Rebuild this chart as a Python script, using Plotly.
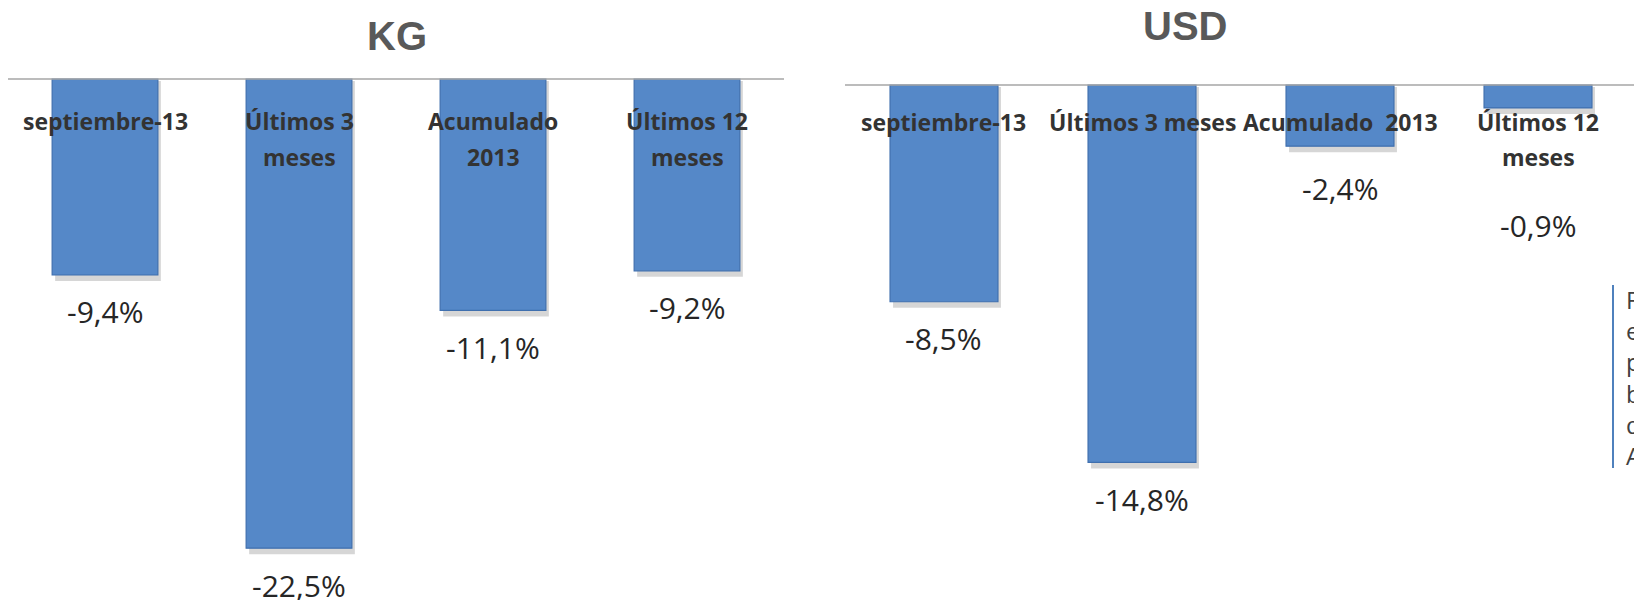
import plotly.graph_objects as go

# ---- data ----
kg_categories = ["septiembre-13", "Últimos 3 meses", "Acumulado 2013", "Últimos 12 meses"]
kg_label_lines = [["septiembre-13"], ["Últimos 3", "meses"], ["Acumulado", "2013"], ["Últimos 12", "meses"]]
kg_values = [-9.4, -22.5, -11.1, -9.2]

usd_categories = ["septiembre-13", "Últimos 3 meses", "Acumulado 2013", "Últimos 12 meses"]
usd_label_lines = [["septiembre-13"], ["Últimos 3 meses"], ["Acumulado  2013"], ["Últimos 12", "meses"]]
usd_values = [-8.5, -14.8, -2.4, -0.9]

titles = ["KG", "USD"]
side_text_lines = ["F", "e", "p", "b", "d", "A"]

# ---- styling / layout parameters ----
W, H = 1634, 600
BAR_COLOR = "#5588C8"
BAR_LINE = "#3F6FAE"
SHADOW = "rgba(0,0,0,0.16)"
AXIS_COLOR = "#A6A6A6"
BAR_W = 0.545
VALUE_FONT = dict(family="Open Sans, sans-serif", size=30, color="#262626")
CAT_FONT = dict(family="Open Sans, sans-serif", size=23, color="#333333")
TITLE_FONT = dict(family="Liberation Sans, Arial, sans-serif", size=40, color="#595959")

panels = [
    dict(cats=kg_categories, lines=kg_label_lines, vals=kg_values, title=titles[0],
         x0=8, x1=784, px_cat=194.0, zero_px=79, ppu=20.85, title_xy=(397, 36),
         line_shifts=[-42, -78], label_gap=-37, extra={}),
    dict(cats=usd_categories, lines=usd_label_lines, vals=usd_values, title=titles[1],
         x0=845, x1=W, px_cat=198.0, zero_px=85, ppu=25.5, title_xy=(1185, 26),
         line_shifts=[-37, -72], label_gap=-37, extra={2: -5, 3: -81}),
]

fig = go.Figure()
annotations = []
shapes = []

for i, p in enumerate(panels):
    xa = "x" if i == 0 else f"x{i+1}"
    ya = "y" if i == 0 else f"y{i+1}"
    xs = list(range(len(p["cats"])))
    # soft drop shadow (3 px right / down)
    sh_dx = 3 / p["px_cat"]
    sh_dy = 4 / p["ppu"]
    fig.add_trace(go.Bar(
        x=xs, y=[v - sh_dy for v in p["vals"]], base=[-sh_dy / 2] * len(xs),
        width=BAR_W, offset=-BAR_W / 2 + sh_dx,
        xaxis=xa, yaxis=ya, marker=dict(color=SHADOW, line=dict(width=0)),
        hoverinfo="skip", showlegend=False,
    ))
    fig.add_trace(go.Bar(
        x=xs, y=p["vals"], width=BAR_W, offset=-BAR_W / 2,
        xaxis=xa, yaxis=ya,
        marker=dict(color=BAR_COLOR, line=dict(color=BAR_LINE, width=1.2)),
        hovertext=p["cats"], hoverinfo="text+y", showlegend=False,
    ))
    axkey = "xaxis" if i == 0 else f"xaxis{i+1}"
    aykey = "yaxis" if i == 0 else f"yaxis{i+1}"
    x1 = min(p["x1"], W)
    fig.layout[axkey] = dict(domain=[p["x0"] / W, x1 / W],
                             range=[-0.5, -0.5 + (x1 - p["x0"]) / p["px_cat"]],
                             visible=False, fixedrange=True)
    top = p["zero_px"] / p["ppu"]
    bottom = -(H - p["zero_px"]) / p["ppu"]
    fig.layout[aykey] = dict(domain=[0, 1], range=[bottom, top], visible=False, fixedrange=True)

    # zero line
    shapes.append(dict(type="line", xref=f"{xa} domain", yref=ya, x0=0, x1=1, y0=0, y1=0,
                       line=dict(color=AXIS_COLOR, width=1.6), layer="above"))
    # category labels
    for j, lines in enumerate(p["lines"]):
        for k, line in enumerate(lines):
            annotations.append(dict(x=j, y=0, xref=xa, yref=ya, text=f"<b>{line}</b>",
                                    showarrow=False, yanchor="middle", xanchor="center",
                                    yshift=p["line_shifts"][k], font=CAT_FONT))
    # value labels
    for j, v in enumerate(p["vals"]):
        txt = f"{v:.1f}".replace(".", ",") + "%"
        annotations.append(dict(x=j, y=v, xref=xa, yref=ya, text=txt, showarrow=False,
                                yanchor="middle", xanchor="center",
                                yshift=p["label_gap"] + p["extra"].get(j, 0), font=VALUE_FONT))
    # title
    tx, ty = p["title_xy"]
    annotations.append(dict(x=tx / W, y=1 - ty / H, xref="paper", yref="paper",
                            text=f"<b>{p['title']}</b>", showarrow=False,
                            xanchor="center", yanchor="middle", font=TITLE_FONT))

# right-side text box fragment
shapes.append(dict(type="line", xref="paper", yref="paper", x0=1613 / W, x1=1613 / W,
                   y0=1 - 285 / H, y1=1 - 468 / H, line=dict(color="#4F81BD", width=2)))
annotations.append(dict(x=1624 / W, y=1 - 281 / H, xref="paper", yref="paper",
                        text="<br>".join(side_text_lines), showarrow=False, align="left",
                        xanchor="left", yanchor="top",
                        font=dict(family="Open Sans, sans-serif", size=24, color="#404040")))

fig.update_layout(
    width=W, height=H, margin=dict(l=0, r=0, t=0, b=0),
    paper_bgcolor="white", plot_bgcolor="rgba(0,0,0,0)",
    barmode="overlay", annotations=annotations, shapes=shapes, showlegend=False,
)

fig.write_html("out.html", config={"displayModeBar": False},
               post_script="document.body.style.margin='0';document.body.style.overflow='hidden';")
